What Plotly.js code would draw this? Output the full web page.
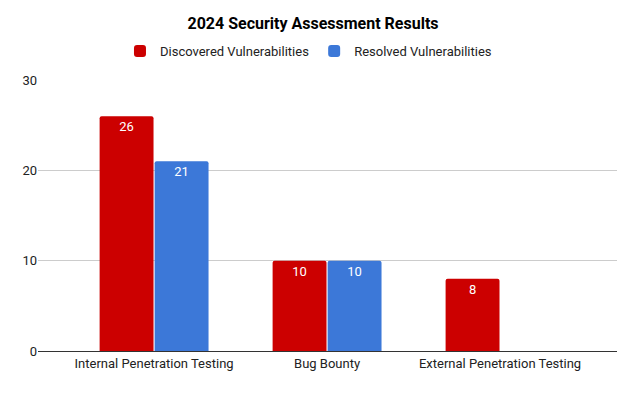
<!DOCTYPE html>
<html>
<head>
<meta charset="utf-8">
<script src="https://cdn.plot.ly/plotly-3.0.1.min.js"></script>
<style>html,body{margin:0;padding:0;background:#fff;}#chart{width:640px;height:399px;}</style>
</head>
<body>
<div id="chart"></div>
<script>
const categories = ["Internal Penetration Testing", "Bug Bounty", "External Penetration Testing"];
const discovered = [26, 10, 8];
const resolved = [21, 10, 0];
const seriesNames = ["Discovered Vulnerabilities", "Resolved Vulnerabilities"];
const yTicks = [0, 10, 20, 30];

const lbl = v => v > 0 ? String(v) : "";
const common = {
  type: "bar",
  x: categories,
  textposition: "inside",
  insidetextanchor: "end",
  textangle: 0,
  constraintext: "none",
  textfont: {family: "Roboto, Arial, sans-serif", size: 13, color: "#ffffff"},
  hoverinfo: "none"
};
const data = [
  Object.assign({}, common, {name: seriesNames[0], y: discovered, text: discovered.map(lbl),
    marker: {color: "#cc0000", cornerradius: 2}}),
  Object.assign({}, common, {name: seriesNames[1], y: resolved, text: resolved.map(lbl),
    marker: {color: "#3c78d8", cornerradius: 2}})
];
const layout = {
  width: 640, height: 399,
  margin: {l: 38, r: 23, t: 80, b: 48},
  paper_bgcolor: "#ffffff", plot_bgcolor: "#ffffff",
  font: {family: "Roboto, Arial, sans-serif", size: 13, color: "#222222"},
  title: {text: "<b>2024 Security Assessment Results</b>", x: 313/640, xanchor: "center",
    y: 1 - 23/399, yanchor: "middle", yref: "container",
    font: {family: "Roboto, Arial, sans-serif", size: 16, color: "#000000"}},
  showlegend: true,
  legend: {orientation: "h", x: 0.482, xanchor: "center", xref: "container", y: 1 - 51/399, yanchor: "middle", yref: "container",
    font: {size: 13, color: "#222222"}, itemclick: false, traceorder: "normal"},
  barmode: "group",
  bargap: 0.364,
  bargroupgap: 0.02,
  xaxis: {type: "category", range: [-0.671, 2.676], showgrid: false, zeroline: false,
    showline: true, linecolor: "#333333", linewidth: 1, ticks: "", tickfont: {size: 13, color: "#222222"}, fixedrange: true},
  yaxis: {range: [0, 30], tickvals: yTicks, ticktext: yTicks.map(String), showgrid: true, gridcolor: "#cccccc", gridwidth: 1,
    zeroline: false, showline: false, ticks: "", ticklen: 0, tickfont: {size: 13, color: "#222222"}, fixedrange: true, automargin: false}
};
Plotly.newPlot("chart", data, layout, {displayModeBar: false, staticPlot: true});
</script>
</body>
</html>
